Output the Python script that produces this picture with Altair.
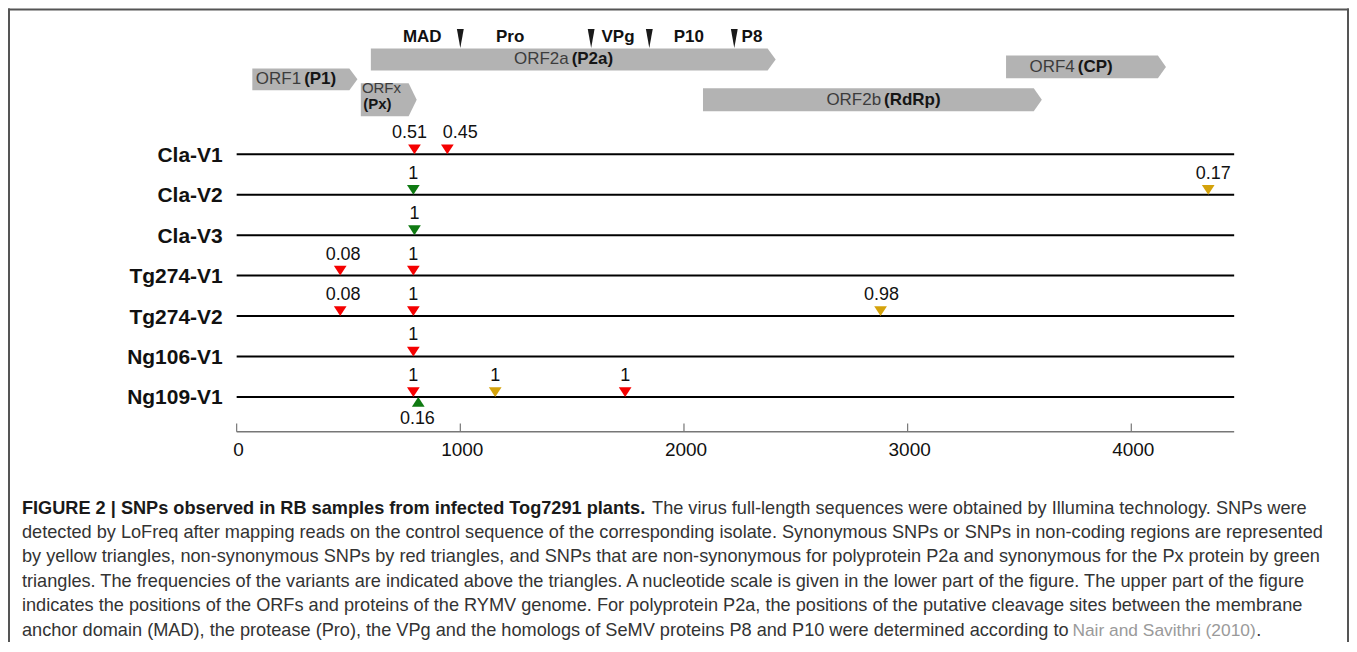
import altair as alt
import pandas as pd

FONT = "Liberation Sans"
GENOME_END = 4460

# ---------------- genome map (upper part) ----------------
orf_name = ["ORF1", "ORFx", "ORF2a", "ORF2b", "ORF4"]
orf_start = [70, 555, 600, 2085, 3440]
orf_end = [540, 805, 2410, 3600, 4155]
orf_top = [4.8, 6.3, 2.8, 6.8, 3.5]
orf_bottom = [7.0, 9.6, 5.0, 9.1, 5.8]
orf_tip = 36

orf_label_regular = ["ORF1", "ORF2a", "ORF2b", "ORF4"]
orf_label_bold = ["(P1)", "(P2a)", "(RdRp)", "(CP)"]
orf_label_pos = [295, 1491, 2888, 3754]
orf_label_y = [5.9, 3.9, 8.0, 4.7]

orfx_label_text = ["ORFx", "(Px)"]
orfx_label_weight = ["normal", "bold"]
orfx_label_pos = [560, 566]
orfx_label_y = [6.8, 8.35]

cleavage_pos = [1000, 1585, 1845, 2225]
cleavage_y = [1.8, 1.8, 1.8, 1.8]
protein_name = ["MAD", "Pro", "VPg", "P10", "P8"]
protein_pos = [830, 1223, 1705, 2022, 2304]
protein_y = [1.7, 1.7, 1.7, 1.7, 1.7]

# ---------------- SNP tracks ----------------
samples = ["Cla-V1", "Cla-V2", "Cla-V3", "Tg274-V1", "Tg274-V2", "Ng106-V1", "Ng109-V1"]

snp_sample = ["Cla-V1", "Cla-V1", "Cla-V2", "Cla-V2", "Cla-V3",
              "Tg274-V1", "Tg274-V1", "Tg274-V2", "Tg274-V2", "Tg274-V2",
              "Ng106-V1", "Ng109-V1", "Ng109-V1", "Ng109-V1", "Ng109-V1"]
snp_pos = [795, 942, 790, 4344, 795,
           463, 790, 463, 790, 2879,
           790, 790, 1156, 1737, 812]
snp_freq = ["0.51", "0.45", "1", "0.17", "1",
            "0.08", "1", "0.08", "1", "0.98",
            "1", "1", "1", "1", "0.16"]
snp_kind = ["non-synonymous", "non-synonymous", "P2a non-syn / Px syn", "synonymous", "P2a non-syn / Px syn",
            "non-synonymous", "non-synonymous", "non-synonymous", "non-synonymous", "synonymous",
            "non-synonymous", "non-synonymous", "synonymous", "non-synonymous", "P2a non-syn / Px syn"]
snp_side = ["above"] * 14 + ["below"]
snp_label_shift = [-22, 58, 0, 22, 0, 13, 0, 13, 0, 4, 0, 0, 0, 0, -4]

kind_domain = ["non-synonymous", "synonymous", "P2a non-syn / Px syn"]
kind_colors = ["#f50000", "#d4a20a", "#0f7a12"]

tick_values = [0, 1000, 2000, 3000, 4000]
axis_row = 6.864
tick_top_row = 6.66
tick_label_row = 7.47

# ---------------- caption ----------------
caption_bold = "FIGURE 2 | SNPs observed in RB samples from infected Tog7291 plants."
caption_first = "The virus full-length sequences were obtained by Illumina technology. SNPs were"
caption_lines = [
    "detected by LoFreq after mapping reads on the control sequence of the corresponding isolate. Synonymous SNPs or SNPs in non-coding regions are represented",
    "by yellow triangles, non-synonymous SNPs by red triangles, and SNPs that are non-synonymous for polyprotein P2a and synonymous for the Px protein by green",
    "triangles. The frequencies of the variants are indicated above the triangles. A nucleotide scale is given in the lower part of the figure. The upper part of the figure",
    "indicates the positions of the ORFs and proteins of the RYMV genome. For polyprotein P2a, the positions of the putative cleavage sites between the membrane",
]
caption_last = "anchor domain (MAD), the protease (Pro), the VPg and the homologs of SeMV proteins P8 and P10 were determined according to"
caption_ref = "Nair and Savithri (2010)"
CAP_SIZE = 18.2

# ---------------- tables ----------------
area_rows = []
for n, s, e, t, b in zip(orf_name, orf_start, orf_end, orf_top, orf_bottom):
    m = (t + b) / 2
    area_rows += [
        {"orf": n, "x": s, "y": t, "y2": b},
        {"orf": n, "x": e - orf_tip, "y": t, "y2": b},
        {"orf": n, "x": e, "y": m, "y2": m},
    ]
orf_df = pd.DataFrame(area_rows)
orf_lab_df = pd.DataFrame({"reg": orf_label_regular, "bold": orf_label_bold,
                           "x": orf_label_pos, "y": orf_label_y})
orfx_df = pd.DataFrame({"t": orfx_label_text, "w": orfx_label_weight,
                        "x": orfx_label_pos, "y": orfx_label_y})
cleave_df = pd.DataFrame({"x": cleavage_pos, "y": cleavage_y})
prot_df = pd.DataFrame({"t": protein_name, "x": protein_pos, "y": protein_y})

row_df = pd.DataFrame({"sample": samples, "row": list(range(len(samples))),
                       "x0": 0, "x1": GENOME_END})
snp_df = pd.DataFrame({"sample": snp_sample, "pos": snp_pos, "freq": snp_freq,
                       "kind": snp_kind, "side": snp_side, "shift": snp_label_shift})
snp_df["row"] = snp_df["sample"].map({s: i for i, s in enumerate(samples)})
snp_df["label_pos"] = snp_df["pos"] + snp_df["shift"]
tick_df = pd.DataFrame({"v": tick_values, "y": tick_top_row, "y2": axis_row,
                        "ly": tick_label_row, "lab": [str(v) for v in tick_values]})
axis_df = pd.DataFrame({"x0": [0], "x1": [GENOME_END], "y": [axis_row]})

cap_df = pd.DataFrame({"t": caption_lines, "line": [1, 2, 3, 4]})

# ---------------- scales ----------------
x_scale = alt.Scale(domain=[0, GENOME_END], range=[229, 1228])
map_y = alt.Scale(domain=[0, 10], range=[12, 112])
track_y = alt.Scale(domain=[0, 6], range=[146, 389])
cap_y = alt.Scale(domain=[0, 5], range=[501, 623])

X = lambda f: alt.X(f, scale=x_scale, axis=None)
YM = lambda f: alt.Y(f, scale=map_y, axis=None)
YT = lambda f: alt.Y(f, scale=track_y, axis=None)
YC = lambda f: alt.Y(f, scale=cap_y, axis=None)

# map layers
orf_area = alt.Chart(orf_df).mark_area(color="#b3b3b3", orient="vertical").encode(
    x=X("x:Q"), y=YM("y:Q"), y2="y2:Q", detail="orf:N")
orf_reg_text = alt.Chart(orf_lab_df).mark_text(
    align="right", baseline="middle", dx=-1.5, font=FONT, fontSize=17, color="#3c3c3c").encode(
    x=X("x:Q"), y=YM("y:Q"), text="reg:N")
orf_bold_text = alt.Chart(orf_lab_df).mark_text(
    align="left", baseline="middle", dx=1.5, font=FONT, fontSize=17, fontWeight="bold", color="#151515").encode(
    x=X("x:Q"), y=YM("y:Q"), text="bold:N")
orfx_reg = alt.Chart(orfx_df).transform_filter(alt.datum.w == "normal").mark_text(
    align="left", baseline="middle", font=FONT, fontSize=15, color="#3c3c3c").encode(
    x=X("x:Q"), y=YM("y:Q"), text="t:N")
orfx_bold = alt.Chart(orfx_df).transform_filter(alt.datum.w == "bold").mark_text(
    align="left", baseline="middle", font=FONT, fontSize=15, fontWeight="bold", color="#151515").encode(
    x=X("x:Q"), y=YM("y:Q"), text="t:N")
cleave = alt.Chart(cleave_df).mark_point(
    shape="M -0.36 -1 L 0.36 -1 L 0 1 Z", size=361, filled=True, color="#1a1a1a", opacity=1, strokeWidth=0).encode(
    x=X("x:Q"), y=YM("y:Q"))
prot = alt.Chart(prot_df).mark_text(
    align="center", baseline="middle", font=FONT, fontSize=17, fontWeight="bold", color="#111").encode(
    x=X("x:Q"), y=YM("y:Q"), text="t:N")
map_layer = alt.layer(orf_area, orf_reg_text, orf_bold_text, orfx_reg, orfx_bold, cleave, prot)

# track layers
color_enc = alt.Color("kind:N", scale=alt.Scale(domain=kind_domain, range=kind_colors), legend=None)
rows = alt.Chart(row_df).mark_rule(color="#000", strokeWidth=2).encode(
    x=X("x0:Q"), x2="x1:Q", y=YT("row:Q"))
row_labels = alt.Chart(row_df).mark_text(
    align="right", baseline="alphabetic", dy=7.5, font=FONT, fontSize=21, fontWeight="bold", color="#111").encode(
    x=alt.value(215), y=YT("row:Q"), text="sample:N")
snp_down = alt.Chart(snp_df).transform_filter(alt.datum.side == "above").mark_point(
    shape="M -0.75 -1.15 L 0.75 -1.15 L 0 0 Z", size=289, filled=True, opacity=1, strokeWidth=0).encode(
    x=X("pos:Q"), y=YT("row:Q"), color=color_enc)
snp_up = alt.Chart(snp_df).transform_filter(alt.datum.side == "below").mark_point(
    shape="M -0.75 1.15 L 0.75 1.15 L 0 0 Z", size=289, filled=True, opacity=1, strokeWidth=0).encode(
    x=X("pos:Q"), y=YT("row:Q"), color=color_enc)
snp_lab_above = alt.Chart(snp_df).transform_filter(alt.datum.side == "above").mark_text(
    align="center", baseline="alphabetic", dy=-16, font=FONT, fontSize=18, color="#111").encode(
    x=X("label_pos:Q"), y=YT("row:Q"), text="freq:N")
snp_lab_below = alt.Chart(snp_df).transform_filter(alt.datum.side == "below").mark_text(
    align="center", baseline="alphabetic", dy=27, font=FONT, fontSize=18, color="#111").encode(
    x=X("label_pos:Q"), y=YT("row:Q"), text="freq:N")
axis_line = alt.Chart(axis_df).mark_rule(color="#777", strokeWidth=1.5).encode(
    x=X("x0:Q"), x2="x1:Q", y=YT("y:Q"))
ticks = alt.Chart(tick_df).mark_rule(color="#777", strokeWidth=1.2).encode(
    x=X("v:Q"), y=YT("y:Q"), y2="y2:Q")
tick_labels = alt.Chart(tick_df).mark_text(
    align="center", baseline="alphabetic", dx=2, font=FONT, fontSize=19, color="#111").encode(
    x=X("v:Q"), y=YT("ly:Q"), text="lab:N")
track_layer = alt.layer(rows, row_labels, snp_down, snp_up, snp_lab_above, snp_lab_below,
                        axis_line, ticks, tick_labels)

# caption layers
one = pd.DataFrame({"line": [0]})
last = pd.DataFrame({"line": [5]})
cap_bold = alt.Chart(one).mark_text(
    align="left", baseline="middle", font=FONT, fontSize=CAP_SIZE, fontWeight="bold", color="#1a1a1a").encode(
    x=alt.value(14), y=YC("line:Q"), text=alt.value(caption_bold))
cap_first = alt.Chart(one).mark_text(
    align="left", baseline="middle", font=FONT, fontSize=CAP_SIZE, color="#333").encode(
    x=alt.value(645), y=YC("line:Q"), text=alt.value(caption_first))
cap_mid = alt.Chart(cap_df).mark_text(
    align="left", baseline="middle", font=FONT, fontSize=CAP_SIZE, color="#333").encode(
    x=alt.value(14), y=YC("line:Q"), text="t:N")
cap_last = alt.Chart(last).mark_text(
    align="left", baseline="middle", font=FONT, fontSize=CAP_SIZE, color="#333").encode(
    x=alt.value(14), y=YC("line:Q"), text=alt.value(caption_last))
cap_ref = alt.Chart(last).mark_text(
    align="left", baseline="middle", font=FONT, fontSize=17.4, color="#9a9a9a").encode(
    x=alt.value(1066), y=YC("line:Q"), text=alt.value(caption_ref))
cap_dot = alt.Chart(last).mark_text(
    align="left", baseline="middle", font=FONT, fontSize=CAP_SIZE, color="#333").encode(
    x=alt.value(1250), y=YC("line:Q"), text=alt.value("."))
caption_layer = alt.layer(cap_bold, cap_first, cap_mid, cap_last, cap_ref, cap_dot)

# frame
frame_df = pd.DataFrame({"a": [0]})
frame_top = alt.Chart(frame_df).mark_rule(color="#555", strokeWidth=2).encode(
    x=alt.value(0), x2=alt.value(1343), y=alt.value(1))
frame_left = alt.Chart(frame_df).mark_rule(color="#555", strokeWidth=2).encode(
    x=alt.value(1), y=alt.value(0), y2=alt.value(640))
frame_right = alt.Chart(frame_df).mark_rule(color="#555", strokeWidth=2).encode(
    x=alt.value(1342), y=alt.value(0), y2=alt.value(640))
frame_layer = alt.layer(frame_top, frame_left, frame_right)

chart = alt.layer(frame_layer, map_layer, track_layer, caption_layer).resolve_scale(
    y="independent", color="independent").properties(
    width=1343, height=634, padding=0,
    autosize=alt.AutoSizeParams(type="none"),
    background="white",
).configure_view(stroke=None)

chart.save("out.html", embed_options={"renderer": "svg", "actions": False})
